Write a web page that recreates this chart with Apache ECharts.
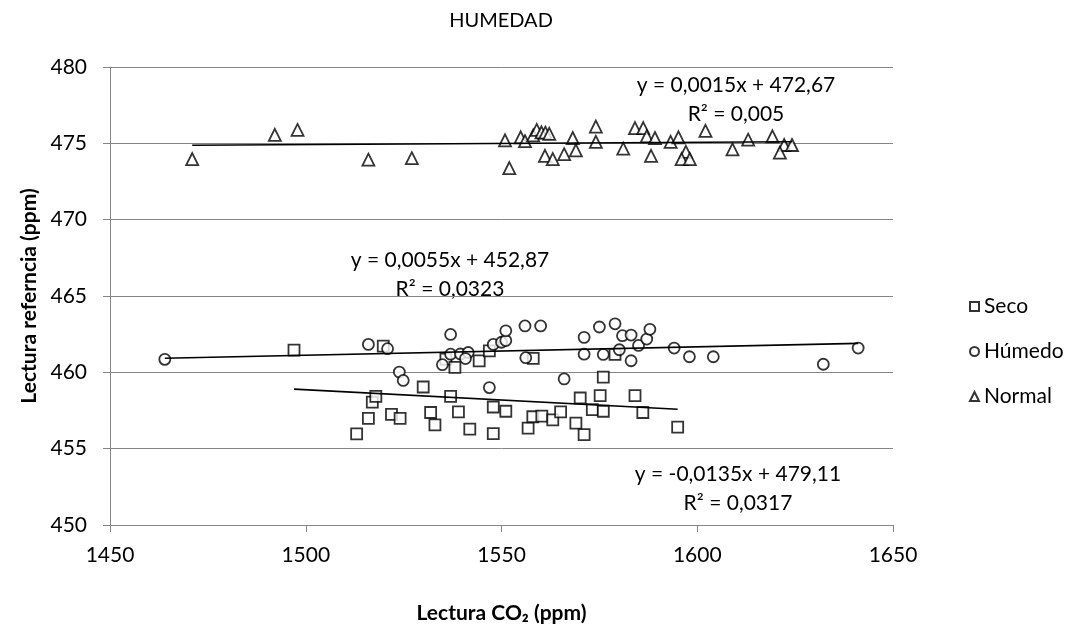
<!DOCTYPE html>
<html>
<head>
<meta charset="utf-8">
<script src="https://cdn.jsdelivr.net/npm/echarts@6/dist/echarts.min.js"></script>
<style>
  html, body { margin: 0; padding: 0; background: #fff; }
  #chart { width: 1081px; height: 629px; }
</style>
</head>
<body>
<div id="chart"></div>
<script>
// series names
const seriesNames = ['Seco', 'Húmedo', 'Normal']

// Seco
const secoX = [1497.0, 1513.0, 1516.0, 1517.0, 1517.9, 1519.8, 1521.9, 1524.1, 1530.0, 1531.9,
  1533.0, 1535.8, 1537.0, 1538.1, 1539.0, 1541.9, 1544.3, 1546.9, 1547.9, 1547.9,
  1551.1, 1556.8, 1558.0, 1558.1, 1560.3, 1563.1, 1565.1, 1569.0, 1570.1, 1571.1,
  1573.2, 1575.2, 1576.0, 1576.0, 1579.0, 1584.1, 1586.1, 1595.0]
const secoY = [461.45, 455.97, 456.99, 458.05, 458.43, 461.72, 457.24, 456.99, 459.04, 457.37,
  456.56, 460.87, 458.43, 460.32, 457.41, 456.28, 460.75, 461.40, 457.73, 455.99,
  457.45, 456.35, 457.09, 460.91, 457.13, 456.88, 457.41, 456.67, 458.32, 455.92,
  457.56, 458.47, 457.45, 459.68, 461.17, 458.47, 457.37, 456.41]

// Húmedo
const humedoX = [1464.0, 1516.0, 1520.9, 1523.9, 1524.9, 1534.9, 1537.0, 1537.0, 1539.5, 1541.5,
  1540.8, 1546.9, 1547.9, 1550.0, 1551.1, 1551.1, 1556.0, 1556.2, 1560.0, 1566.0,
  1571.1, 1571.1, 1575.0, 1576.0, 1579.0, 1580.1, 1580.9, 1583.1, 1583.1, 1585.0,
  1587.1, 1587.9, 1594.1, 1598.0, 1604.1, 1632.2, 1641.1]
const humedoY = [460.85, 461.83, 461.55, 460.02, 459.47, 460.50, 462.48, 461.19, 461.20, 461.30,
  460.90, 459.00, 461.83, 461.97, 462.08, 462.72, 463.04, 460.96, 463.04, 459.57,
  462.29, 461.19, 462.97, 461.17, 463.18, 461.48, 462.40, 462.44, 460.76, 461.76,
  462.18, 462.82, 461.59, 461.02, 461.02, 460.53, 461.59]

// Normal
const normalX = [1471.0, 1492.1, 1497.9, 1516.0, 1527.1, 1550.9, 1552.0, 1554.9, 1556.0, 1558.1,
  1559.0, 1560.2, 1561.2, 1562.2, 1561.1, 1563.1, 1566.0, 1568.2, 1569.0, 1574.1,
  1574.1, 1581.1, 1584.1, 1586.2, 1587.1, 1589.2, 1588.2, 1593.2, 1595.2, 1597.1,
  1596.0, 1598.1, 1602.1, 1609.0, 1613.0, 1619.2, 1622.2, 1621.1, 1624.2]
const normalY = [473.97, 475.56, 475.88, 473.93, 474.03, 475.20, 473.38, 475.39, 475.14, 475.52,
  475.88, 475.72, 475.70, 475.62, 474.18, 473.97, 474.29, 475.35, 474.54, 476.10,
  475.10, 474.65, 476.00, 476.00, 475.46, 475.35, 474.18, 475.10, 475.39, 474.44,
  473.97, 473.97, 475.82, 474.60, 475.24, 475.46, 474.89, 474.39, 474.89]

// linear trend lines (Seco, Húmedo, Normal) as printed on the chart
const trendSlope = [-0.0135, 0.0055, 0.0015]
const trendIntercept = [479.11, 452.87, 472.67]
const trendEquation = ['y = -0,0135x + 479,11', 'y = 0,0055x + 452,87', 'y = 0,0015x + 472,67']
const trendR2 = ['R² = 0,0317', 'R² = 0,0323', 'R² = 0,005']

// axes
const xMin = 1450, xMax = 1650, xStep = 50
const yMin = 450, yMax = 480, yStep = 5

const FONT = 'Lato, "Open Sans", "DejaVu Sans", sans-serif'
const seriesX = [secoX, humedoX, normalX]
const seriesY = [secoY, humedoY, normalY]
const symbols = ['rect', 'circle', 'triangle']
const symbolSizes = [11, 11, 12]

const pairs = (xs, ys) => xs.map((x, i) => [x, ys[i]])

const scatterSeries = seriesNames.map((name, i) => ({
  name,
  type: 'scatter',
  data: pairs(seriesX[i], seriesY[i]),
  symbol: symbols[i],
  symbolSize: symbolSizes[i],
  itemStyle: { color: '#fff', borderColor: '#000', borderWidth: 1.8 },
  z: 3
}))

const trendSeries = seriesNames.map((name, i) => {
  const lo = Math.min(...seriesX[i])
  const hi = Math.max(...seriesX[i])
  return {
    name: name + ' trend',
    type: 'line',
    data: [lo, hi].map(x => [x, trendSlope[i] * x + trendIntercept[i]]),
    symbol: 'none',
    lineStyle: { color: '#000', width: 1.6 },
    silent: true,
    z: 4
  }
})

// equation label centres, in pixels
const eqPos = [[738, 474], [450, 260], [736, 85]]
const labels = [{
  type: 'text', x: 501, y: 21,
  style: { text: 'HUMEDAD', font: '20px ' + FONT, fill: '#000', textAlign: 'center', textVerticalAlign: 'middle' }
}]
eqPos.forEach((p, i) => {
  labels.push({
    type: 'text', x: p[0], y: p[1],
    style: { text: trendEquation[i], font: '21px ' + FONT, fill: '#000', textAlign: 'center', textVerticalAlign: 'middle' }
  })
  labels.push({
    type: 'text', x: p[0], y: p[1] + 29,
    style: { text: trendR2[i], font: '21px ' + FONT, fill: '#000', textAlign: 'center', textVerticalAlign: 'middle' }
  })
})

const chart = echarts.init(document.getElementById('chart'), null, { renderer: 'canvas' })
chart.setOption({
  backgroundColor: '#fff',
  animation: false,
  textStyle: { fontFamily: FONT },
  grid: { left: 110, right: 188, top: 67, bottom: 91 },
  legend: {
    data: seriesNames,
    orient: 'vertical',
    left: 964,
    top: 291,
    itemWidth: 9,
    itemHeight: 9,
    itemGap: 24,
    textStyle: { fontSize: 21, color: '#000', fontFamily: FONT }
  },
  xAxis: {
    type: 'value',
    min: xMin,
    max: xMax,
    interval: xStep,
    name: 'Lectura CO₂ (ppm)',
    nameLocation: 'middle',
    nameGap: 78,
    nameTextStyle: { fontSize: 21, fontWeight: 'bold', color: '#000' },
    axisLine: { lineStyle: { color: '#868686' } },
    axisTick: { show: true, length: 7, lineStyle: { color: '#868686' } },
    axisLabel: { fontSize: 21, color: '#000', margin: 20, formatter: v => String(v) },
    splitLine: { show: false }
  },
  yAxis: {
    type: 'value',
    min: yMin,
    max: yMax,
    interval: yStep,
    name: 'Lectura referncia (ppm)',
    nameLocation: 'middle',
    nameGap: 68,
    nameTextStyle: { fontSize: 21, fontWeight: 'bold', color: '#000' },
    axisLine: { show: true, lineStyle: { color: '#868686' } },
    axisTick: { show: true, length: 7, lineStyle: { color: '#868686' } },
    axisLabel: { fontSize: 21, color: '#000', margin: 23, formatter: v => String(v) },
    splitLine: { show: true, lineStyle: { color: '#868686', width: 1 } }
  },
  graphic: labels,
  series: [...trendSeries, ...scatterSeries]
})
</script>
</body>
</html>
